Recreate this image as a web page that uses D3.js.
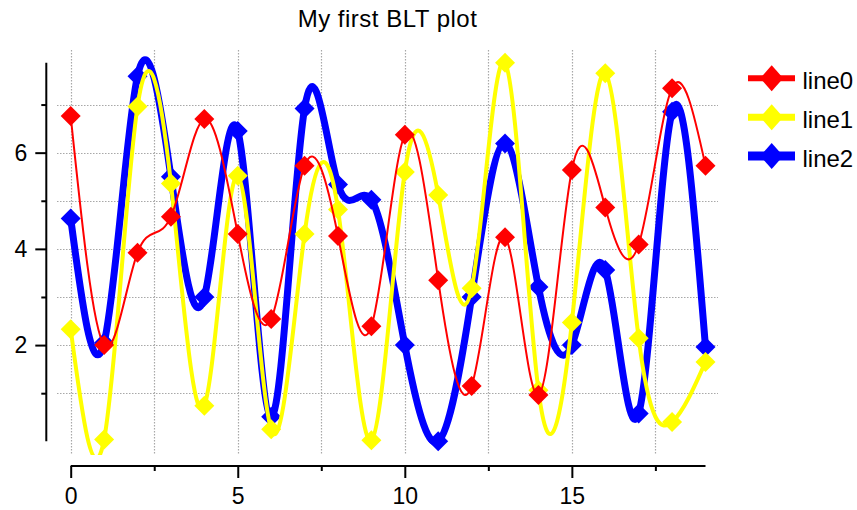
<!DOCTYPE html>
<html>
<head>
<meta charset="utf-8">
<script src="https://cdn.jsdelivr.net/npm/d3@7"></script>
<style>
  html, body { margin: 0; padding: 0; background: #fff; }
  svg { display: block; font-family: "Liberation Sans", Arial, Helvetica, sans-serif; }
</style>
</head>
<body>
<svg id="chart" width="857" height="510"></svg>
<script>
// Sample values, one per x position 0..19
const xValues = d3.range(0, 20);
const line0 = [6.76, 2.00, 3.92, 4.67, 6.70, 4.31, 2.54, 5.73, 4.27, 2.39,
               6.37, 3.35, 1.15, 4.24, 0.96, 5.64, 4.86, 4.09, 7.34, 5.73];
const line1 = [2.33, 0.04, 6.96, 5.36, 0.74, 5.52, 0.25, 4.31, 4.82, 0.02,
               5.60, 5.12, 3.18, 7.87, 1.06, 2.47, 7.65, 2.14, 0.40, 1.65];
const line2 = [4.63, 2.05, 7.59, 5.50, 3.00, 6.45, 0.51, 6.92, 5.34, 5.02,
               2.00, 0.00, 3.00, 6.19, 3.21, 2.00, 3.56, 0.58, 6.85, 1.96];

const seriesNames = ["line0", "line1", "line2"];
const seriesValues = [line0, line1, line2];
const seriesColors = ["#ff0000", "#ffff00", "#0000ff"];
const seriesWidths = [2, 4, 7];
const legendWidths = [6, 7, 9];

const xMajorTicks = [0, 5, 10, 15];
const xMinorTicks = [2.5, 7.5, 12.5, 17.5];
const yMajorTicks = [2, 4, 6];
const yMinorTicks = [1, 3, 5, 7];

const titleText = "My first BLT plot";

const svg = d3.select("#chart");

// plotting area (grid extent) and data extent inside it
const area = { left: 57, right: 718, top: 50, bottom: 455 };

const x = d3.scaleLinear().domain(d3.extent(xValues)).range([70.7, 705.5]);
const allY = seriesValues.flat();
const y = d3.scaleLinear().domain(d3.extent(allY)).range([441.3, 62.7]);

// title
svg.append("text")
  .attr("x", (area.left + area.right) / 2)
  .attr("y", 26.5)
  .attr("text-anchor", "middle")
  .attr("font-size", 24)
  .attr("letter-spacing", 0.5)
  .attr("fill", "#000")
  .text(titleText);

// dotted grid
const grid = svg.append("g")
  .attr("stroke", "#a8a8a8")
  .attr("stroke-width", 1.2)
  .attr("stroke-dasharray", "1.5,1.5");
grid.selectAll("line.v")
  .data(xMajorTicks.concat(xMinorTicks))
  .join("line")
  .attr("class", "v")
  .attr("x1", d => Math.round(x(d)) + 0.5).attr("x2", d => Math.round(x(d)) + 0.5)
  .attr("y1", area.top).attr("y2", area.bottom);
grid.selectAll("line.h")
  .data(yMajorTicks.concat(yMinorTicks))
  .join("line")
  .attr("class", "h")
  .attr("y1", d => Math.round(y(d)) + 0.5).attr("y2", d => Math.round(y(d)) + 0.5)
  .attr("x1", area.left).attr("x2", area.right);

// axes
const xAxisY = 466;
const yAxisX = 46.3;

const xAxis = svg.append("g").attr("transform", `translate(0,${xAxisY})`);
xAxis.call(d3.axisBottom(x).tickValues(xMajorTicks).tickSize(12).tickPadding(10).tickFormat(d3.format("d")));
xAxis.append("g").call(d3.axisBottom(x).tickValues(xMinorTicks).tickSize(5).tickFormat(""))
  .select(".domain").remove();

const yAxis = svg.append("g").attr("transform", `translate(${yAxisX},0)`);
yAxis.call(d3.axisLeft(y).tickValues(yMajorTicks).tickSize(11).tickPadding(8).tickFormat(d3.format("d")));
yAxis.append("g").call(d3.axisLeft(y).tickValues(yMinorTicks).tickSize(5).tickFormat(""))
  .select(".domain").remove();

svg.selectAll(".domain").attr("stroke", "#000").attr("stroke-width", 2);
svg.selectAll(".tick line").attr("stroke", "#000").attr("stroke-width", 2);
svg.selectAll(".tick text")
  .attr("font-size", 23)
  .attr("fill", "#000")
  .attr("font-family", "'Liberation Sans', Arial, sans-serif");
// straight axis ends with no outer ticks
xAxis.select(".domain").attr("d", `M${x.range()[0]},0H${x.range()[1]}`);
yAxis.select(".domain").attr("d", `M0,${y.range()[0]}V${y.range()[1]}`);

// clip for curves
svg.append("defs").append("clipPath").attr("id", "plotClip")
  .append("rect")
  .attr("x", area.left).attr("y", area.top)
  .attr("width", area.right - area.left).attr("height", area.bottom - area.top);

const diamond = (s) => `M0,${-s}L${s},0L0,${s}L${-s},0Z`;

const lineGen = d3.line()
  .x((d, i) => x(xValues[i]))
  .y(d => y(d))
  .curve(d3.curveNatural);

// draw last series first so line0 sits on top
const plot = svg.append("g").attr("clip-path", "url(#plotClip)");
for (let k = seriesValues.length - 1; k >= 0; k--) {
  const g = plot.append("g");
  g.append("path")
    .datum(seriesValues[k])
    .attr("d", lineGen)
    .attr("fill", "none")
    .attr("stroke", seriesColors[k])
    .attr("stroke-width", seriesWidths[k])
    .attr("stroke-linejoin", "round");
  g.selectAll("path.pt")
    .data(seriesValues[k])
    .join("path")
    .attr("class", "pt")
    .attr("transform", (d, i) => `translate(${x(xValues[i])},${y(d)})`)
    .attr("d", diamond(10))
    .attr("fill", seriesColors[k]);
}

// legend
const legend = svg.append("g");
const legendRowsY = [78.3, 117.3, 156];
seriesNames.forEach((name, k) => {
  const row = legend.append("g").attr("transform", `translate(0,${legendRowsY[k]})`);
  row.append("line")
    .attr("x1", 748).attr("x2", 795)
    .attr("y1", 0).attr("y2", 0)
    .attr("stroke", seriesColors[k])
    .attr("stroke-width", legendWidths[k]);
  row.append("path")
    .attr("transform", "translate(771.7,0)")
    .attr("d", `M0,-13L11.5,0L0,13L-11.5,0Z`)
    .attr("fill", seriesColors[k]);
  row.append("text")
    .attr("x", 802.5)
    .attr("y", 11)
    .attr("font-size", 24)
    .attr("fill", "#000")
    .text(name);
});
</script>
</body>
</html>
